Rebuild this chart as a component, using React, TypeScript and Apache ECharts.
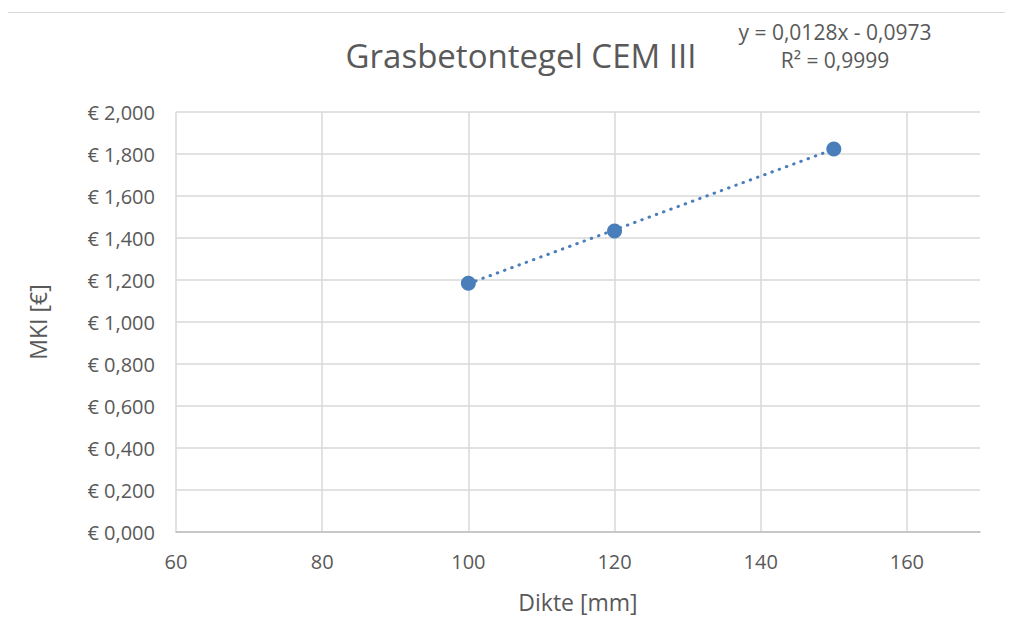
import React, { useEffect, useRef } from "react";
import * as echarts from "echarts";

const diktes = [100, 120, 150];
const mkiValues = [1.184, 1.433, 1.824];
const trendX = [100, 150];
const trendY = [1.1827, 1.8227];
const xTicks = [60, 80, 100, 120, 140, 160];
const titleText = "Grasbetontegel CEM III";
const eqLine1 = "y = 0,0128x - 0,0973";
const eqLine2 = "R² = 0,9999";

const FONT = "'Open Sans', 'Noto Sans', sans-serif";
const BLUE = "#4a7ebb";
const GREY = "#595959";

export default function App() {
  const ref = useRef<HTMLDivElement>(null);
  useEffect(() => {
    if (!ref.current) return;
    const chart = echarts.init(ref.current, null, { renderer: "svg" });
    chart.setOption({
      animation: false,
      backgroundColor: "#ffffff",
      textStyle: { fontFamily: FONT },
      title: {
        text: titleText,
        left: 516,
        top: 34,
        textAlign: "center",
        textStyle: { fontFamily: FONT, fontSize: 33, fontWeight: "normal", color: GREY },
      },
      graphic: [
        {
          type: "rect",
          shape: { x: 4.5, y: 12.5, width: 1100, height: 700 },
          style: { fill: "none", stroke: "#d9d9d9", lineWidth: 1 },
          z: -1,
        },
        {
          type: "text",
          x: 835,
          y: 21,
          style: { text: eqLine1, fontFamily: FONT, fontSize: 21, fill: GREY, textAlign: "center" },
        },
        {
          type: "text",
          x: 835,
          y: 49,
          style: { text: eqLine2, fontFamily: FONT, fontSize: 21, fill: GREY, textAlign: "center" },
        },
      ],
      grid: { left: 176, top: 112, right: 33, bottom: 110, containLabel: false },
      xAxis: {
        type: "value",
        min: 60,
        max: 170,
        interval: 20,
        name: "Dikte [mm]",
        nameLocation: "middle",
        nameGap: 58,
        nameTextStyle: { fontFamily: FONT, fontSize: 23, color: GREY },
        axisLine: { show: true, lineStyle: { color: "#bfbfbf", width: 1.5 } },
        axisTick: { show: false },
        axisLabel: {
          margin: 19,
          fontFamily: FONT,
          fontSize: 20,
          color: GREY,
          formatter: (v: number) => (xTicks.includes(v) ? String(v) : ""),
        },
        splitLine: { show: true, showMaxLine: false, lineStyle: { color: "#d9d9d9", width: 1.5 } },
      },
      yAxis: {
        type: "value",
        min: 0,
        max: 2,
        interval: 0.2,
        name: "MKI [€]",
        nameLocation: "middle",
        nameGap: 127,
        nameTextStyle: { fontFamily: FONT, fontSize: 23, color: GREY },
        axisLine: { show: false },
        axisTick: { show: false },
        axisLabel: {
          margin: 21,
          fontFamily: FONT,
          fontSize: 20,
          color: GREY,
          formatter: (v: number) => "€ " + v.toFixed(3).replace(".", ","),
        },
        splitLine: { show: true, lineStyle: { color: "#d9d9d9", width: 1.5 } },
      },
      series: [
        {
          type: "line",
          data: trendX.map((x, i) => [x, trendY[i]]),
          showSymbol: false,
          symbol: "none",
          lineStyle: { color: BLUE, width: 3, type: [0.5, 7.2], cap: "round" },
          z: 2,
        },
        {
          type: "scatter",
          data: diktes.map((x, i) => [x, mkiValues[i]]),
          symbol: "circle",
          symbolSize: 15,
          itemStyle: { color: BLUE, opacity: 1 },
          z: 3,
        },
      ],
    });
    return () => chart.dispose();
  }, []);
  return <div ref={ref} style={{ width: 1013, height: 642, margin: -8 }} />;
}
